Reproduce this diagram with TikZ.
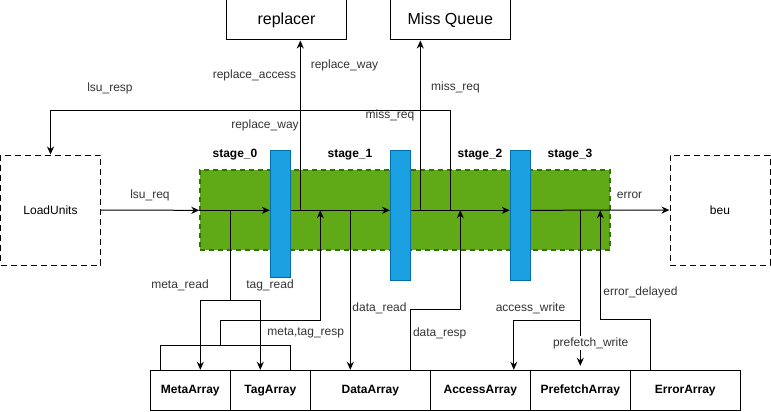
\documentclass[tikz,border=0pt]{standalone}
\usepackage{fontspec}
\setmainfont{Liberation Sans}
\usetikzlibrary{arrows.meta}
\definecolor{stagefill}{HTML}{60A917}
\definecolor{stageedge}{HTML}{2D7600}
\definecolor{regfill}{HTML}{1BA1E2}
\definecolor{regedge}{HTML}{006EAF}
\begin{document}
\begin{tikzpicture}[x=1pt,y=-1pt,font=\fontsize{12}{14}\selectfont,
 sig/.style={-{Stealth[length=8pt,width=7pt]},line width=1pt},
 wire/.style={line width=1pt},
 lbl/.style={text=black!80,inner sep=1pt},
 box/.style={draw,line width=1pt,minimum height=40pt,inner sep=0pt},
 arr/.style={box,font=\fontsize{12}{14}\selectfont\bfseries},
 ext/.style={draw,line width=1pt,dash pattern=on 6pt off 4pt,minimum width=100pt,minimum height=110pt,inner sep=0pt},
 reg/.style={draw=regedge,fill=regfill,line width=1pt,minimum width=20pt,inner sep=0pt},
 stagelbl/.style={font=\fontsize{12}{14}\selectfont\bfseries}]
 \useasboundingbox (0,0) rectangle (771,412);

 % outside units
 \node[box,minimum width=120pt,font=\fontsize{16}{18}\selectfont] (replacer) at (286.5,20) {replacer};
 \node[box,minimum width=120pt,font=\fontsize{16}{18}\selectfont] (missq) at (450.3,20) {Miss Queue};
 \node[ext] (lsu) at (50.5,210) {LoadUnits};
 \node[ext] (beu) at (720,210) {beu};

 % pipeline
 \node[draw=stageedge,fill=stagefill,line width=2pt,dash pattern=on 5pt off 4pt,minimum width=410pt,minimum height=80pt,inner sep=0pt] (pipe) at (405.3,210.3) {};
 \node[reg,minimum height=127pt] (s0) at (280.3,213.8) {};
 \node[reg,minimum height=130pt] (s1) at (400.5,215.3) {};
 \node[reg,minimum height=130pt] (s2) at (520.2,215.3) {};
 \node[stagelbl] (st0) at (235,155) {stage\_0};
 \node[stagelbl] (st1) at (350,155) {stage\_1};
 \node[stagelbl] (st2) at (480,155) {stage\_2};
 \node[stagelbl] (st3) at (570,155) {stage\_3};

 % arrays
 \node[arr,minimum width=80pt] (meta) at (190.3,390.3) {MetaArray};
 \node[arr,minimum width=80pt] (tag) at (270.3,390.3) {TagArray};
 \node[arr,minimum width=120pt] (data) at (370.3,390.3) {DataArray};
 \node[arr,minimum width=100pt] (access) at (480.3,390.3) {AccessArray};
 \node[arr,minimum width=100pt] (prefetch) at (580.3,390.3) {PrefetchArray};
 \node[arr,minimum width=110pt] (errarr) at (685.3,390.3) {ErrorArray};

 % main flow
 \draw[sig] (lsu) -- (pipe.west);
 \draw[sig] (pipe.west) -- (s0.west |- pipe);
 \draw[sig] (s0.east |- pipe) -- (s1.west |- pipe);
 \draw[sig] (s1.east |- pipe) -- (s2.west |- pipe);
 \draw[sig] (s2.east |- pipe) -- (beu);

 % taps on the main line
 \coordinate (mrtap) at (230.3,210.3);
 \coordinate (rtap) at (300.3,210.3);
 \coordinate (mttap) at (320.3,210.3);
 \coordinate (drtap) at (350.3,210.3);
 \coordinate (mqtap) at (420.3,210.3);
 \coordinate (resptap) at (450.3,210.3);
 \coordinate (dstap) at (460.3,210.3);
 \coordinate (awtap) at (580.3,210.3);
 \coordinate (edtap) at (600.3,210.3);

 % to replacer, miss queue, load units
 \draw[sig] (rtap) -- (rtap |- replacer.south);
 \draw[sig] (mqtap) -- (mqtap |- missq.south);
 \draw[sig] (resptap) -- ++(0,-100) -| (lsu.north);

 % meta / tag
 \coordinate (mrsplit) at (230.3,300.3);
 \draw[wire] (mrtap) -- (mrsplit);
 \draw[sig] (mrsplit) -| ([xshift=10pt]meta.north);
 \draw[sig] (mrsplit) -| ([xshift=-10pt]tag.north);
 \coordinate (mtjoin) at (220.3,345.3);
 \draw[wire] ([xshift=-30pt]meta.north) |- (mtjoin) -| ([xshift=20pt]tag.north);
 \draw[sig] (mtjoin) -- ++(0,-25) -| (mttap);

 % data
 \draw[sig] (drtap) -- (drtap |- data.north);
 \draw[sig] ([xshift=40pt]data.north) -- ++(0,-60) -| (dstap);

 % access / prefetch / error
 \coordinate (awsplit) at (580.3,320.3);
 \draw[wire] (awtap) -- (awsplit);
 \draw[sig] (awsplit) -| ([xshift=33.5pt]access.north);
 \draw[sig,shorten >=4pt] (awsplit) -- (prefetch.north);
 \draw[sig] ([xshift=-35pt]errarr.north) -- ++(0,-50) -| (edtap);

 % labels
 \node[lbl] (lrepacc) at (254.5,75) {replace\_access};
 \node[lbl] (lrepway) at (344.5,65) {replace\_way};
 \node[lbl] (lrepway2) at (265,125) {replace\_way};
 \node[lbl] (llsuresp) at (110,88) {lsu\_resp};
 \node[lbl] (lmissreq) at (455.5,87) {miss\_req};
 \node[lbl] (lmissreq2) at (390,115) {miss\_req};
 \node[lbl] (llsureq) at (150,195) {lsu\_req};
 \node[lbl] (lerror) at (629.5,195) {error};
 \node[lbl] (lmetaread) at (180,285) {meta\_read};
 \node[lbl] (ltagread) at (270,285) {tag\_read};
 \node[lbl] (lmtresp) at (305.7,333) {meta,tag\_resp};
 \node[lbl] (ldataread) at (379.5,308) {data\_read};
 \node[lbl] (ldataresp) at (439.7,333) {data\_resp};
 \node[lbl] (laccw) at (530.5,308) {access\_write};
 \node[lbl,fill=white] (lprefw) at (590.7,343) {prefetch\_write};
 \node[lbl] (lerrdel) at (640.5,292) {error\_delayed};
\end{tikzpicture}
\end{document}
